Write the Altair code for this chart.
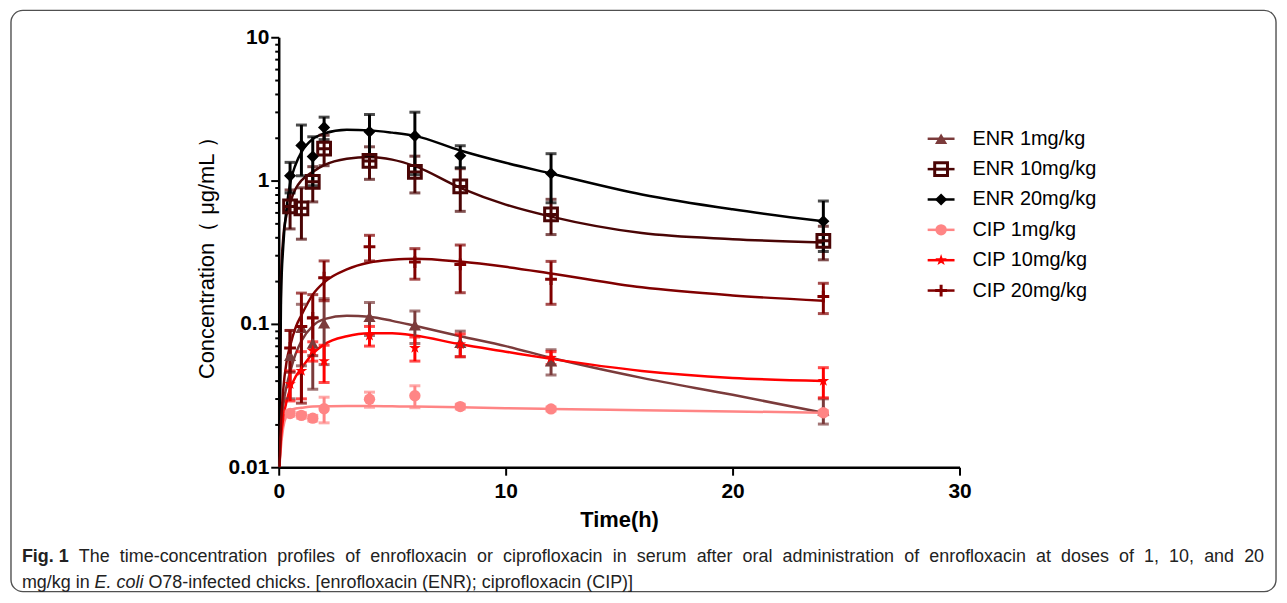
import altair as alt
import pandas as pd

# ---------------- data ----------------
series = ["ENR 1mg/kg", "ENR 10mg/kg", "ENR 20mg/kg", "CIP 1mg/kg", "CIP 10mg/kg", "CIP 20mg/kg"]
colors = ["#7b3b3b", "#4a0505", "#000000", "#ff8585", "#ff0000", "#800000"]

times = [0.5, 1, 1.5, 2, 4, 6, 8, 12, 24]

enr1_mean = [0.06, 0.094, 0.073, 0.101, 0.112, 0.098, 0.074, 0.055, 0.025]
enr1_sd = [0.03, 0.043, 0.038, 0.049, 0.029, 0.025, 0.015, 0.011, 0.005]
enr10_mean = [0.66, 0.64, 0.98, 1.67, 1.37, 1.15, 0.91, 0.58, 0.38]
enr10_sd = [0.2, 0.25, 0.27, 0.4, 0.35, 0.33, 0.3, 0.16, 0.1]
enr20_mean = [1.08, 1.76, 1.47, 2.35, 2.19, 2.05, 1.49, 1.12, 0.52]
enr20_sd = [0.26, 0.68, 0.55, 0.42, 0.7, 0.95, 0.26, 0.42, 0.2]
cip1_mean = [0.0237, 0.023, 0.022, 0.0256, 0.0298, 0.0315, 0.0265, 0.0255, 0.024]
cip1_sd = [0.001, 0.001, 0.001, 0.0052, 0.0036, 0.0055, 0.001, 0.0008, 0.0008]
cip10_mean = [0.038, 0.047, 0.065, 0.055, 0.083, 0.068, 0.072, 0.058, 0.04]
cip10_sd = [0.009, 0.017, 0.01, 0.016, 0.013, 0.013, 0.013, 0.006, 0.0095]
cip20_mean = [0.068, 0.096, 0.11, 0.21, 0.345, 0.27, 0.26, 0.205, 0.155]
cip20_sd = [0.022, 0.068, 0.05, 0.065, 0.07, 0.065, 0.095, 0.068, 0.037]

# fitted curves
curve_t = [0.03, 0.1, 0.2, 0.35, 0.5, 0.75, 1, 1.5, 2, 3, 4, 5, 6, 8, 10, 12, 16, 20, 24]
enr1_curve = [0.01, 0.018, 0.027, 0.037, 0.046, 0.062, 0.076, 0.097, 0.108, 0.114, 0.112, 0.105, 0.097, 0.082, 0.07, 0.058, 0.042, 0.032, 0.024]
enr10_curve = [0.01, 0.2, 0.4, 0.58, 0.7, 0.88, 1.0, 1.15, 1.28, 1.42, 1.46, 1.4, 1.26, 0.89, 0.68, 0.56, 0.43, 0.39, 0.37]
enr20_curve = [0.01, 0.15, 0.35, 0.65, 0.95, 1.3, 1.58, 1.95, 2.13, 2.26, 2.24, 2.16, 2.05, 1.62, 1.33, 1.12, 0.8, 0.63, 0.52]
cip1_curve = [0.01, 0.014, 0.019, 0.023, 0.025, 0.0257, 0.026, 0.0265, 0.0266, 0.0267, 0.0267, 0.0266, 0.0265, 0.0262, 0.0258, 0.0255, 0.025, 0.0245, 0.024]
cip10_curve = [0.01, 0.016, 0.022, 0.029, 0.035, 0.043, 0.049, 0.062, 0.072, 0.082, 0.086, 0.086, 0.083, 0.072, 0.064, 0.057, 0.047, 0.042, 0.04]
cip20_curve = [0.01, 0.02, 0.035, 0.055, 0.07, 0.095, 0.115, 0.16, 0.195, 0.24, 0.268, 0.28, 0.285, 0.272, 0.25, 0.225, 0.18, 0.158, 0.145]

means = [enr1_mean, enr10_mean, enr20_mean, cip1_mean, cip10_mean, cip20_mean]
sds = [enr1_sd, enr10_sd, enr20_sd, cip1_sd, cip10_sd, cip20_sd]
curves = [enr1_curve, enr10_curve, enr20_curve, cip1_curve, cip10_curve, cip20_curve]

x_ticks = [0, 10, 20, 30]
y_major = [0.01, 0.1, 1, 10]
y_minor = [k * d for d in [0.01, 0.1, 1] for k in range(2, 10)]

caption_bold = "Fig. 1"
caption_1 = ("The time-concentration profiles of enrofloxacin or ciprofloxacin in serum after oral "
             "administration of enrofloxacin at doses of 1, 10, and 20")
caption_2a = "mg/kg in"
caption_2b = "E. coli"
caption_2c = "O78-infected chicks. [enrofloxacin (ENR); ciprofloxacin (CIP)]"

# ---------------- styling ----------------
FONT = "Liberation Sans"
STAR = ("M0,-1L0.235,-0.324L0.951,-0.309L0.380,0.124L0.588,0.809L0,0.4"
        "L-0.588,0.809L-0.380,0.124L-0.951,-0.309L-0.235,-0.324Z")
SQUARE = "M-1,-1H1V1H-1Z M-1,0H1"
PLUS = "M-1,0H1M0,-1V1"
marker = [
    dict(shape="triangle-up", filled=True, size=150, strokeWidth=0),
    dict(shape=SQUARE, filled=False, size=165, strokeWidth=3),
    dict(shape="diamond", filled=True, size=150, strokeWidth=0),
    dict(shape="circle", filled=True, size=130, strokeWidth=0),
    dict(shape=STAR, filled=True, size=150, strokeWidth=0),
    dict(shape=PLUS, filled=False, size=140, strokeWidth=3),
]

xscale = alt.Scale(domain=[0, 30], nice=False)
yscale = alt.Scale(type="log", domain=[0.01, 10], nice=False)
major_test = " || ".join(f"datum.value == {v}" for v in y_major)
xaxis = alt.Axis(values=x_ticks, format="d", tickSize=8, labelFontSize=21, labelFontWeight="bold",
                 labelPadding=5, labelFlush=False, title="Time(h)", titleFontSize=22,
                 titleFontWeight="bold", titlePadding=9)
yaxis = alt.Axis(values=y_major + y_minor,
                 labelExpr=f"({major_test}) ? datum.label : ''",
                 tickSize={"condition": {"test": major_test, "value": 8}, "value": 4},
                 labelFontSize=21, labelFontWeight="bold", labelPadding=2, labelOverlap=False,
                 title="Concentration（ μg/mL ）", titleFontSize=22, titleFontWeight="normal",
                 titlePadding=10)


def X(f):
    return alt.X(f, type="quantitative", scale=xscale, axis=xaxis)


def Y(f):
    return alt.Y(f, type="quantitative", scale=yscale, axis=yaxis)


curve_layers, bar_layers, point_layers, legend_layers = [], [], [], []
dummy = alt.Data(values=[{}])
row0, row_step = 102, 30.5

for i, name in enumerate(series):
    c = colors[i]
    m = marker[i]
    cdf = pd.DataFrame({"t": curve_t, "v": curves[i]})
    pdf = pd.DataFrame({"t": times, "v": means[i]})
    pdf["lo"] = pdf["v"] - pd.Series(sds[i])
    pdf["hi"] = pdf["v"] + pd.Series(sds[i])

    curve_layers.append(
        alt.Chart(cdf).mark_line(color=c, strokeWidth=2.5, interpolate="monotone", clip=True)
        .encode(x=X("t"), y=Y("v"))
    )
    bar_layers.append(
        alt.Chart(pdf).mark_rule(color=c, strokeWidth=3).encode(x=X("t"), y=Y("lo"), y2="hi")
    )
    for end in ["lo", "hi"]:
        bar_layers.append(
            alt.Chart(pdf).mark_tick(color=c, orient="horizontal", size=11, thickness=3)
            .encode(x=X("t"), y=Y(end))
        )
    point_layers.append(
        alt.Chart(pdf).mark_point(color=c, opacity=1, **m).encode(x=X("t"), y=Y("v"))
    )

    ry = row0 + row_step * i
    legend_layers.append(
        alt.Chart(dummy).mark_rule(color=c, strokeWidth=2.5)
        .encode(x=alt.value(652), x2=alt.value(679), y=alt.value(ry))
    )
    legend_layers.append(
        alt.Chart(dummy).mark_point(color=c, opacity=1, **m)
        .encode(x=alt.value(665.5), y=alt.value(ry))
    )
    legend_layers.append(
        alt.Chart(dummy).mark_text(align="left", baseline="middle", font=FONT, fontSize=20, color="black")
        .encode(x=alt.value(697), y=alt.value(ry), text=alt.value(name))
    )

frame = alt.Chart(dummy).mark_rect(fillOpacity=0, stroke="#505050", strokeWidth=1.4, cornerRadius=12).encode(
    x=alt.value(-269), x2=alt.value(1002), y=alt.value(-27), y2=alt.value(557)
)

# ---- caption layout (Arial-compatible advance widths, justified first line) ----
W = {' ': 278, '-': 333, ',': 278, '.': 278, '/': 278, '(': 333, ')': 333, '[': 278, ']': 278, ';': 278}
W.update({d: 556 for d in "0123456789"})
W.update(dict(zip("abcdefghijklmnopqrstuvwxyz",
                  [556, 556, 500, 556, 556, 278, 556, 556, 222, 222, 500, 222, 833, 556, 556, 556, 556,
                   333, 500, 278, 556, 500, 722, 500, 500, 500])))
W.update(dict(zip("ABCDEFGHIJKLMNOPQRSTUVWXYZ",
                  [667, 667, 722, 722, 667, 611, 778, 722, 278, 500, 667, 556, 833, 722, 778, 667, 778,
                   722, 667, 611, 722, 667, 944, 667, 667, 611])))
WB = dict(W)
WB.update({'F': 611, 'i': 278, 'g': 611})
CAP_FS = 18


def tw(s, table=W):
    return sum(table.get(ch, 556) for ch in s) * CAP_FS / 1000


def cap_text(txt, x, y, weight="normal", style="normal"):
    return alt.Chart(dummy).mark_text(align="left", baseline="middle", font=FONT, fontSize=CAP_FS,
                                      fontWeight=weight, fontStyle=style, color="#222222").encode(
        x=alt.value(x), y=alt.value(y), text=alt.value(txt))


cap_left, cap_right = -258, 990
y1, y2 = 522, 548
caption = [cap_text(caption_bold, cap_left, y1, weight="bold")]
words = caption_1.split(" ")
start = cap_left + tw(caption_bold, WB)
gap = (cap_right - start - sum(tw(w) for w in words)) / len(words)
xpos = start + gap
for w in words:
    caption.append(cap_text(w, xpos, y1))
    xpos += tw(w) + gap
space = tw(" ")
x2a = cap_left
caption.append(cap_text(caption_2a, x2a, y2))
x2b = x2a + tw(caption_2a) + space
caption.append(cap_text(caption_2b, x2b, y2, style="italic"))
caption.append(cap_text(caption_2c, x2b + tw(caption_2b) + space, y2))

chart = alt.layer(frame, *curve_layers, *bar_layers, *point_layers, *legend_layers, *caption).properties(
    width=684, height=432, padding={"left": 2, "top": 0, "right": 2, "bottom": 0}
).configure_view(stroke="transparent").configure_axis(
    domainColor="black", domainWidth=2.5, tickColor="black", tickWidth=2, labelColor="black",
    titleColor="black", grid=False, labelFont=FONT, titleFont=FONT
)

chart.save("out.html", embed_options={"renderer": "svg", "actions": False})
